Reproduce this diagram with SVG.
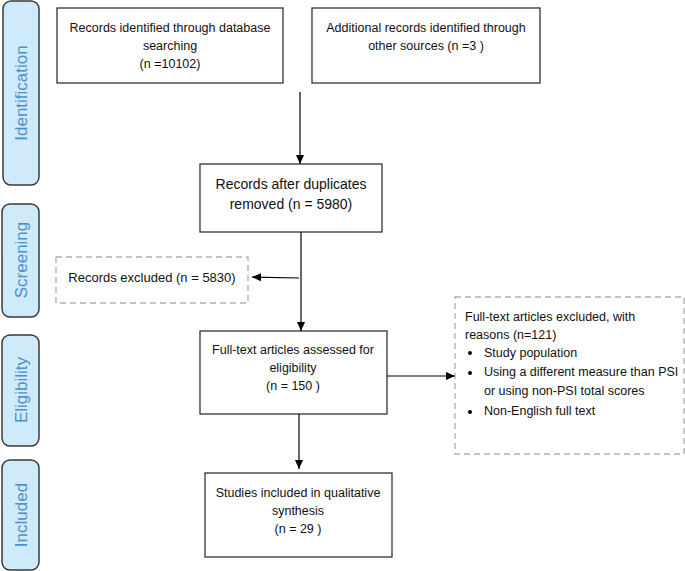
<svg xmlns="http://www.w3.org/2000/svg" width="685" height="571" viewBox="0 0 685 571">
<defs>
<marker id="ah" markerWidth="10" markerHeight="10" refX="9" refY="5" orient="auto" markerUnits="userSpaceOnUse">
<path d="M0,1 L9,5 L0,9 Z" fill="#000"/>
</marker>
<style>
.tab{fill:#cfeafb;stroke:#3a3a3a;stroke-width:1.5}
.tabt{font-family:"Liberation Sans",Arial,sans-serif;font-size:17px;fill:#4a8fcf;text-anchor:middle}
.box{fill:#fff;stroke:#333;stroke-width:1.3}
.dbox{fill:#fff;stroke:#b0b0b0;stroke-width:1.3;stroke-dasharray:6,4}
.t{font-family:"Liberation Sans",Arial,sans-serif;font-size:12.5px;fill:#111;text-anchor:middle}
.tl{font-family:"Liberation Sans",Arial,sans-serif;font-size:12.5px;fill:#111}
.c{stroke:#000;stroke-width:1.2;fill:none}
</style>
</defs>
<g id="tab-identification"><rect class="tab" x="3" y="1" width="36" height="184" rx="8"/><text class="tabt" transform="translate(27,93) rotate(-90)">Identification</text></g>
<g id="tab-screening"><rect class="tab" x="2" y="204" width="37" height="113" rx="8"/><text class="tabt" transform="translate(27,260) rotate(-90)">Screening</text></g>
<g id="tab-eligibility"><rect class="tab" x="2" y="335" width="37" height="111" rx="8"/><text class="tabt" transform="translate(27,390) rotate(-90)">Eligibility</text></g>
<g id="tab-included"><rect class="tab" x="2" y="460" width="37" height="110" rx="8"/><text class="tabt" transform="translate(27,515) rotate(-90)">Included</text></g>

<g id="n1"><rect class="box" x="57" y="8" width="226" height="75"/>
<text class="t" x="170" y="32">Records identified through database</text>
<text class="t" x="170" y="50">searching</text>
<text class="t" x="170" y="68">(n =10102)</text></g>

<g id="n2"><rect class="box" x="312" y="8" width="228" height="75"/>
<text class="t" x="426" y="32">Additional records identified through</text>
<text class="t" x="426" y="50">other sources (n =3 )</text></g>

<g id="n3"><rect class="box" x="200" y="164" width="182" height="68"/>
<text class="t" x="291" y="189" style="font-size:14px">Records after duplicates</text>
<text class="t" x="291" y="209" style="font-size:14px">removed (n = 5980)</text></g>

<g id="n4"><rect class="dbox" x="56" y="257" width="192" height="46"/>
<text class="t" x="152" y="282" style="font-size:13px">Records excluded (n = 5830)</text></g>

<g id="n5"><rect class="box" x="200" y="331" width="187" height="83"/>
<text class="t" x="293" y="354">Full-text articles assessed for</text>
<text class="t" x="293" y="372">eligibility</text>
<text class="t" x="293" y="390">(n = 150 )</text></g>

<g id="n6"><rect class="dbox" x="455" y="297" width="229" height="157"/>
<text class="tl" x="465" y="321">Full-text articles excluded, with</text>
<text class="tl" x="465" y="339">reasons (n=121)</text>
<circle cx="470" cy="353" r="2"/><text class="tl" x="484" y="357">Study population</text>
<circle cx="470" cy="373" r="2"/><text class="tl" x="484" y="376">Using a different measure than PSI</text>
<text class="tl" x="484" y="395">or using non-PSI total scores</text>
<circle cx="470" cy="412" r="2"/><text class="tl" x="484" y="415">Non-English full text</text></g>

<g id="n7"><rect class="box" x="205" y="473" width="187" height="84"/>
<text class="t" x="298" y="497">Studies included in qualitative</text>
<text class="t" x="298" y="515">synthesis</text>
<text class="t" x="298" y="533">(n = 29 )</text></g>

<g id="connectors">
<line class="c" x1="300" y1="92" x2="300" y2="164" marker-end="url(#ah)"/>
<line class="c" x1="301" y1="232" x2="301" y2="331" marker-end="url(#ah)"/>
<line class="c" x1="299" y1="278" x2="252" y2="277" marker-end="url(#ah)"/>
<line class="c" x1="387" y1="376" x2="455" y2="376" marker-end="url(#ah)"/>
<line class="c" x1="299" y1="414" x2="299" y2="469" marker-end="url(#ah)"/>
</g>
</svg>
